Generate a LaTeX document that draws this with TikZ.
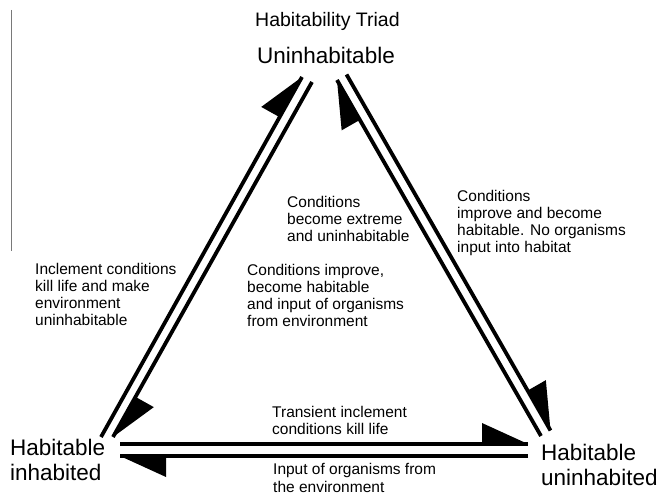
\documentclass[tikz,border=0pt]{standalone}
\usepackage{fontspec}
\setmainfont{Liberation Sans}
\usetikzlibrary{calc}

% a thick shaft ending in a filled half-head on its left-hand side
\newcommand\halfarrow[2]{%
  \draw[arrline] (#1) -- (#2);
  \path ($(#2)!46pt!(#1)$) coordinate (hb);
  \fill (#2) -- (hb) -- ($(hb)!21pt!90:(#2)$) -- cycle;
}

\begin{document}
\begin{tikzpicture}[x=1pt,y=-1pt,
  arrline/.style={line width=3.8pt},
  % multi-line nodes are placed by the baseline of their last line
  note/.style={font=\fontsize{15.5}{17.3}\selectfont, align=left, inner sep=0pt, anchor=base west},
  state/.style={font=\fontsize{22.5}{25}\selectfont, align=left, inner sep=0pt, anchor=base west},
  ttl/.style={font=\fontsize{19.5}{22}\selectfont, inner sep=0pt, anchor=base west}]
\useasboundingbox (0,0) rectangle (659,494);

% margin rule on the left
\draw[line width=1.5pt, gray!95!black] (11.5,10) -- (11.5,251);

% titles and state labels
\node[ttl] (title) at (255,27) {Habitability Triad};
\node[state] (uninh) at (257,64) {Uninhabitable};
\node[state] (habinh) at (10,480) {Habitable\\inhabited};
\node[state] (habun) at (541,485) {Habitable\\uninhabited};

% arrow end points
\coordinate (l1s) at (101,437);  \coordinate (l1e) at (302,77);
\coordinate (l2s) at (312,82);   \coordinate (l2e) at (113,437);
\coordinate (r1s) at (541,436);  \coordinate (r1e) at (337,80);
\coordinate (r2s) at (346.5,74.5); \coordinate (r2e) at (550.5,430.5);
\coordinate (b1s) at (120,444);  \coordinate (b1e) at (528,444);
\coordinate (b2s) at (528,456);  \coordinate (b2e) at (120,456);

\halfarrow{l1s}{l1e}
\halfarrow{l2s}{l2e}
\halfarrow{r1s}{r1e}
\halfarrow{r2s}{r2e}
\halfarrow{b1s}{b1e}
\halfarrow{b2s}{b2e}

% transition notes
\node[note] (n1) at (287,242) {Conditions\\become extreme\\and uninhabitable};
\node[note] (n2) at (457,253) {Conditions\\improve and become\\habitable. No organisms\\input into habitat};
\node[note] (n3) at (35,326) {Inclement conditions\\kill life and make\\environment\\uninhabitable};
\node[note] (n4) at (247,327) {Conditions improve,\\become habitable\\and input of organisms\\from environment};
\node[note] (n5) at (272,435) {Transient inclement\\conditions kill life};
\node[note] (n6) at (273,492) {Input of organisms from\\the environment};
\end{tikzpicture}
\end{document}
